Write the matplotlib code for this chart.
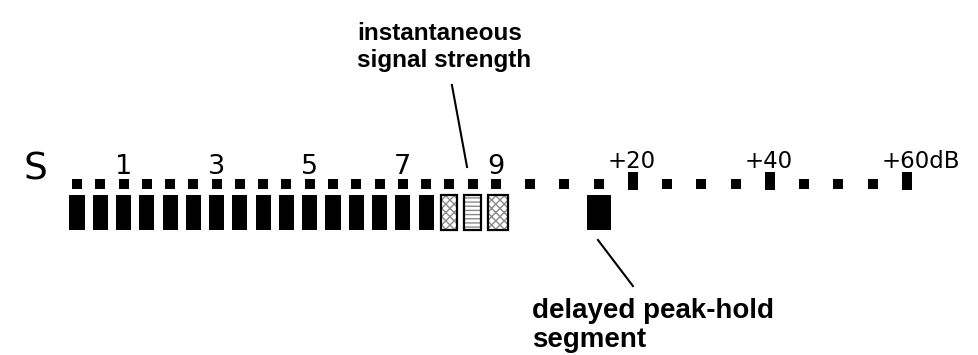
import numpy as np
import matplotlib
matplotlib.use("Agg")
import matplotlib.pyplot as plt
from matplotlib.transforms import offset_copy

# ---- data ----
n_segments = 31                      # dot positions 0..30
scale_ticks = [2, 6, 10, 14, 18, 22, 26, 30]
scale_labels = ['1', '3', '5', '7', '9', '+20', '+40', '+60dB']
major_dots = [22, 26, 30]            # tall marks on the dB part of the scale
lit_segments = list(range(0, 16))    # solid black segments
instant_segments = [16, 17, 18]      # instantaneous signal-strength segments
instant_hatch = ['xxxx', '----', 'xxxx']
peak_segment = 21                    # delayed peak-hold segment
top_note = "instantaneous\nsignal strength"
bottom_note = "delayed peak-hold\nsegment"

# ---- layout ----
S9 = 18
K = 34.25 / 23.27   # wider spacing beyond S9

def fwd(x):
    x = np.asarray(x, dtype=float)
    return np.where(x <= S9, x, S9 + (x - S9) * K)

def inv(y):
    y = np.asarray(y, dtype=float)
    return np.where(y <= S9, y, S9 + (y - S9) / K)

fig = plt.figure(figsize=(9.79, 3.55), dpi=100)
ax = fig.add_axes([0, 0, 1, 1])
ax.set_xscale('function', functions=(fwd, inv))
ax.set_xlim(-3.309, float(inv(38.76)))
ax.set_ylim(355, 0)
ax.axis('off')

seg = np.arange(n_segments)
small = [i for i in seg if i not in major_dots]

# dots
ax.scatter(small, np.full(len(small), 183.5), marker='s', s=46, color='black',
           linewidths=0, zorder=3)
tall = [(-5, -8.5), (5, -8.5), (5, 8.5), (-5, 8.5), (-5, -8.5)]
ax.scatter(major_dots, np.full(len(major_dots), 180.5), marker=tall, s=150,
           color='black', linewidths=0, zorder=3)

# bars
BAR_TOP, BAR_H = 195, 35
ax.bar(lit_segments, BAR_H, bottom=BAR_TOP, width=0.65, color='black', linewidth=0)
for s, h in zip(instant_segments, instant_hatch):
    ax.bar(s, BAR_H, bottom=BAR_TOP, width=0.70, facecolor='white',
           edgecolor='#8a8a8a', hatch=h, linewidth=0)
    ax.bar(s, BAR_H, bottom=BAR_TOP, width=0.70, fill=False,
           edgecolor='black', linewidth=1.6)
ax.bar(peak_segment, BAR_H, bottom=BAR_TOP, width=0.70, color='black', linewidth=0)

# scale labels
db_trans = offset_copy(ax.transData, fig=fig, x=-25, y=0, units='dots')
for t, lab in zip(scale_ticks, scale_labels):
    if lab.startswith('+'):
        ax.text(t, 168, lab, transform=db_trans, ha='left', va='baseline',
                fontsize=16.5, family='DejaVu Sans')
    else:
        ax.text(t, 174, lab, ha='center', va='baseline',
                fontsize=19.5, family='DejaVu Sans')
ax.text(-2.32, 180, 'S', ha='left', va='baseline', fontsize=27, family='DejaVu Sans')

# annotations (baseline = last line)
ax.text(12.03, 67, top_note, ha='left', va='baseline', fontsize=17.5,
        family='Liberation Sans', fontweight='bold', linespacing=1.2)
mid = instant_segments[1]
ax.plot([mid - 0.89, mid - 0.24], [85, 167], color='black', lw=1.5)

ax.text(19.05, 347, bottom_note, ha='left', va='baseline', fontsize=20,
        family='Liberation Sans', fontweight='bold', linespacing=1.15)
ax.plot([peak_segment - 0.02, peak_segment + 1.0], [240, 286], color='black', lw=1.5)

fig.savefig('out.png', dpi=100)
